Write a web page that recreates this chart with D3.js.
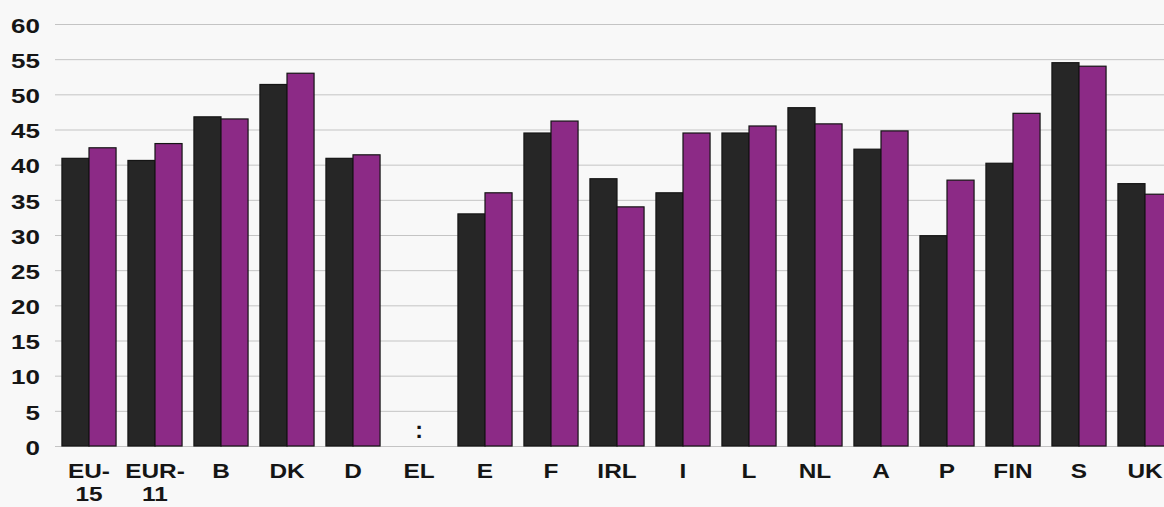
<!DOCTYPE html>
<html><head><meta charset="utf-8">
<script src="https://cdn.jsdelivr.net/npm/d3@7"></script>
<style>
html,body{margin:0;padding:0;background:#f8f8f8;}
svg{display:block;}
</style></head>
<body>
<script>
const categories = ["EU-15","EUR-11","B","DK","D","EL","E","F","IRL","I","L","NL","A","P","FIN","S","UK"];
const seriesDark = [40.9,40.6,46.8,51.4,40.9,null,33.0,44.5,38.0,36.0,44.5,48.1,42.2,29.9,40.2,54.5,37.3];
const seriesPurple = [42.4,43.0,46.5,53.0,41.4,null,36.0,46.2,34.0,44.5,45.5,45.8,44.8,37.8,47.3,54.0,35.8];
const yTicks = [0,5,10,15,20,25,30,35,40,45,50,55,60];
const missingMark = ":";

const W = 1164, H = 507;
const svg = d3.select("body").append("svg").attr("width", W).attr("height", H);
svg.append("rect").attr("width", W).attr("height", H).attr("fill", "#f8f8f8");

const x = d3.scaleBand().domain(categories).range([56, 1178]).paddingInner(0.18).paddingOuter(0.09);
const y = d3.scaleLinear().domain([0, 60]).range([446, 24]);
const sub = d3.scaleBand().domain(["dark","purple"]).range([0, x.bandwidth()]);

// gridlines
svg.append("g").selectAll("line").data(yTicks).join("line")
  .attr("x1", 55).attr("x2", W)
  .attr("y1", d => y(d) + 0.5).attr("y2", d => y(d) + 0.5)
  .attr("stroke", "#c4c4c4").attr("stroke-width", 1);

// bars
const rows = categories.map((c, i) => ({c, dark: seriesDark[i], purple: seriesPurple[i]}));
const colors = {dark: "#262626", purple: "#8c2a86"};
const g = svg.append("g");
["dark","purple"].forEach(k => {
  g.selectAll("rect." + k).data(rows.filter(r => r[k] != null)).join("rect")
    .attr("class", k)
    .attr("x", d => x(d.c) + sub(k))
    .attr("width", sub.bandwidth())
    .attr("y", d => y(d[k]))
    .attr("height", d => y(0) - y(d[k]))
    .attr("fill", colors[k])
    .attr("stroke", "#151515").attr("stroke-width", 1.2);
});

// missing marker
rows.filter(r => r.dark == null && r.purple == null).forEach(r => {
  svg.append("text").attr("x", x(r.c) + x.bandwidth() / 2).attr("y", 438)
    .attr("text-anchor", "middle")
    .attr("font-family", "Liberation Sans, Arial, sans-serif")
    .attr("font-weight", "bold").attr("font-size", 23).attr("fill", "#111")
    .text(missingMark);
});

// y axis
const ya = svg.append("g").attr("transform", "translate(55,0)")
  .call(d3.axisLeft(y).tickValues(yTicks).tickSize(0).tickPadding(0));
ya.select(".domain").remove();
ya.selectAll("text")
  .attr("x", 0).attr("dy", "0.36em")
  .attr("transform", "translate(-15,1) scale(1.3,1)")
  .attr("font-family", "Liberation Sans, Arial, sans-serif")
  .attr("font-weight", "bold").attr("font-size", 20).attr("fill", "#151515");

// x axis
const xa = svg.append("g").attr("transform", "translate(0,446)")
  .call(d3.axisBottom(x).tickSize(0).tickPadding(0));
xa.select(".domain").remove();
xa.selectAll("text").each(function(d) {
  const t = d3.select(this);
  t.text(null).attr("y", 0).attr("dy", null)
    .attr("transform", "scale(1.22,1)")
    .attr("font-family", "Liberation Sans, Arial, sans-serif")
    .attr("font-weight", "bold").attr("font-size", 20).attr("fill", "#151515");
  const parts = d.includes("-") ? [d.slice(0, d.indexOf("-") + 1), d.slice(d.indexOf("-") + 1)] : [d];
  parts.forEach((p, i) => {
    t.append("tspan").attr("x", 0).attr("y", 32 + i * 23).text(p);
  });
});
</script>
</body></html>
